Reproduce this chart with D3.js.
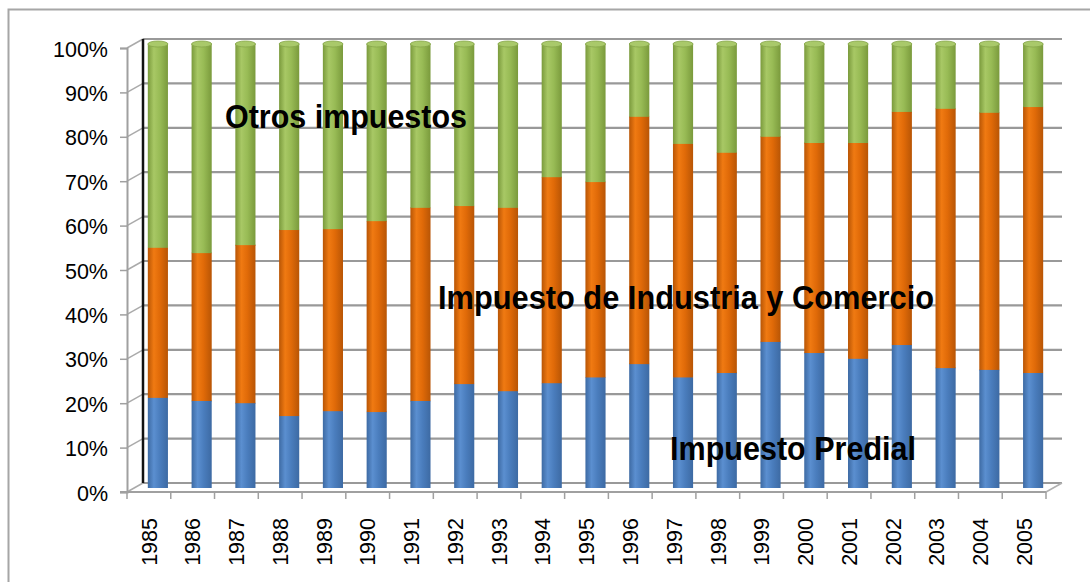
<!DOCTYPE html>
<html>
<head>
<meta charset="utf-8">
<script src="https://cdn.jsdelivr.net/npm/d3@7/dist/d3.min.js"></script>
<style>
  html, body { margin: 0; padding: 0; background: #fff; }
  svg { display: block; }
</style>
</head>
<body>
<svg id="chart" width="1090" height="582"></svg>
<script>
// ---------- DATA ----------
const years = ["1985","1986","1987","1988","1989","1990","1991","1992","1993","1994","1995",
               "1996","1997","1998","1999","2000","2001","2002","2003","2004","2005"];
const predial   = [20.3,19.6,19.1,16.2,17.3,17.1,19.6,23.4,21.8,23.6,24.9,27.9,24.9,25.9,32.9,30.4,29.1,32.2,27.0,26.6,25.9];
const industria = [33.8,33.3,35.6,41.9,41.0,43.0,43.5,40.1,41.3,46.4,44.0,55.7,52.6,49.6,46.2,47.3,48.6,52.5,58.4,57.9,59.9];
const otros     = [45.9,47.1,45.3,41.9,41.7,39.9,36.9,36.5,36.9,30.0,31.1,16.4,22.5,24.5,20.9,22.3,22.3,15.3,14.6,15.5,14.2];
const seriesNames = ["Impuesto Predial","Impuesto de Industria y Comercio","Otros impuestos"];
const yTicks = [0,0.1,0.2,0.3,0.4,0.5,0.6,0.7,0.8,0.9,1.0];

// ---------- LAYOUT ----------
const svg = d3.select("#chart");
const depthX = 16, depthY = -9;       // 3D wall offset
const barDX = 9, barDY = -4;          // bars at mid-depth

const x = d3.scaleBand().domain(years).range([127, 1046]).paddingInner(0.54).paddingOuter(0.27);
const y = d3.scaleLinear().domain([0, 1]).range([492, 48]);

const colors = {
  "Impuesto Predial": ["#3d6aa3", "#5b8fd0", "#4a7dbd"],
  "Impuesto de Industria y Comercio": ["#b85505", "#f07a12", "#e06a08"],
  "Otros impuestos": ["#7a9a3c", "#a8c865", "#98bb55"]
};

// outer border
svg.append("rect").attr("x", 8.5).attr("y", 9.5).attr("width", 1100).attr("height", 600)
   .attr("fill", "none").attr("stroke", "#a6a6a6").attr("stroke-width", 2);

// gradients
const defs = svg.append("defs");
seriesNames.forEach((s, i) => {
  const c = colors[s];
  const g = defs.append("linearGradient").attr("id", "g" + i).attr("x1", 0).attr("x2", 1).attr("y1", 0).attr("y2", 0);
  g.append("stop").attr("offset", "0%").attr("stop-color", c[0]);
  g.append("stop").attr("offset", "30%").attr("stop-color", c[1]);
  g.append("stop").attr("offset", "60%").attr("stop-color", c[2]);
  g.append("stop").attr("offset", "100%").attr("stop-color", c[0]);
});

// back wall gridlines
const xLeft = x.range()[0], xRight = x.range()[1];
svg.append("g").selectAll("line").data(yTicks).join("line")
  .attr("x1", xLeft + depthX).attr("x2", xRight + depthX)
  .attr("y1", d => y(d) + depthY).attr("y2", d => y(d) + depthY)
  .attr("stroke", "#999").attr("stroke-width", 2.2);

// side wall diagonals
svg.append("g").selectAll("line").data(yTicks).join("line")
  .attr("x1", xLeft).attr("x2", xLeft + depthX)
  .attr("y1", d => y(d)).attr("y2", d => y(d) + depthY)
  .attr("stroke", "#aaa").attr("stroke-width", 1.5);

// back wall left edge (dark)
svg.append("line").attr("x1", xLeft + depthX).attr("x2", xLeft + depthX)
  .attr("y1", y(1) + depthY).attr("y2", y(0) + depthY)
  .attr("stroke", "#111").attr("stroke-width", 2.5);

// floor right diagonal
svg.append("line").attr("x1", xRight).attr("x2", xRight + depthX)
  .attr("y1", y(0)).attr("y2", y(0) + depthY)
  .attr("stroke", "#b0b0b0").attr("stroke-width", 1.5);

// stacked data
const rows = years.map((yr, i) => ({ year: yr, "Impuesto Predial": predial[i] / 100,
  "Impuesto de Industria y Comercio": industria[i] / 100, "Otros impuestos": otros[i] / 100 }));
const stack = d3.stack().keys(seriesNames).offset(d3.stackOffsetExpand)(rows);

const bw = x.bandwidth();
const barsG = svg.append("g").attr("transform", `translate(${barDX},${barDY})`);
stack.forEach((layer, li) => {
  barsG.append("g").selectAll("rect").data(layer).join("rect")
    .attr("x", d => x(d.data.year))
    .attr("width", bw)
    .attr("y", d => y(d[1]))
    .attr("height", d => y(d[0]) - y(d[1]))
    .attr("fill", `url(#g${li})`);
  barsG.append("g").selectAll("ellipse").data(layer).join("ellipse")
    .attr("cx", d => x(d.data.year) + bw / 2)
    .attr("cy", d => y(d[1]))
    .attr("rx", bw / 2).attr("ry", 2.5)
    .attr("fill", `url(#g${li})`);
});
// top cap
barsG.append("g").selectAll("ellipse").data(stack[2]).join("ellipse")
  .attr("cx", d => x(d.data.year) + bw / 2)
  .attr("cy", d => y(d[1]))
  .attr("rx", bw / 2).attr("ry", 3)
  .attr("fill", "#a9c96a").attr("stroke", "#86a64a").attr("stroke-width", 0.8);

// left axis
const yAxis = svg.append("g").attr("transform", `translate(${xLeft},0)`)
  .call(d3.axisLeft(y).tickValues(yTicks).tickFormat(d3.format(".0%")).tickSize(7).tickPadding(12));
yAxis.select(".domain").attr("stroke", "#a0a0a0").attr("stroke-width", 2);
yAxis.selectAll(".tick line").attr("stroke", "#a0a0a0").attr("stroke-width", 1.5);
yAxis.selectAll("text").attr("font-family", "Liberation Sans, Arial, sans-serif")
  .attr("font-size", 21.5).attr("fill", "#000").attr("dy", "0.38em");

// bottom axis
const xAxis = svg.append("g").attr("transform", `translate(0,${y(0)})`)
  .call(d3.axisBottom(x).tickSize(0).tickPadding(0));
xAxis.select(".domain").attr("stroke", "#a0a0a0").attr("stroke-width", 2)
  .attr("d", `M${xLeft - 7},0H${xRight}`);
xAxis.selectAll("text")
  .attr("font-family", "Liberation Sans, Arial, sans-serif").attr("font-size", 21.5).attr("fill", "#000")
  .attr("text-anchor", "end").attr("transform", "rotate(-90)")
  .attr("x", -26).attr("y", 0).attr("dy", "0.36em");
// boundary ticks
const step = x.step();
const bounds = years.map(d => x(d) - (step - bw) / 2).concat([xRight]);
xAxis.append("g").selectAll("line").data(bounds).join("line")
  .attr("x1", d => d).attr("x2", d => d).attr("y1", 0).attr("y2", 7)
  .attr("stroke", "#a0a0a0").attr("stroke-width", 1.5);

// annotation labels
const ann = [
  { text: "Otros impuestos", x: 225, y: 128, w: 242 },
  { text: "Impuesto de Industria y Comercio", x: 438, y: 309, w: 496 },
  { text: "Impuesto Predial", x: 670, y: 460, w: 246 }
];
svg.append("g").selectAll("text").data(ann).join("text")
  .attr("x", d => d.x).attr("y", d => d.y)
  .attr("font-family", "Liberation Sans Narrow, Arial Narrow, Liberation Sans, sans-serif")
  .attr("font-weight", "bold").attr("font-size", 34).attr("fill", "#000")
  .attr("textLength", d => d.w).attr("lengthAdjust", "spacingAndGlyphs")
  .text(d => d.text);
</script>
</body>
</html>
